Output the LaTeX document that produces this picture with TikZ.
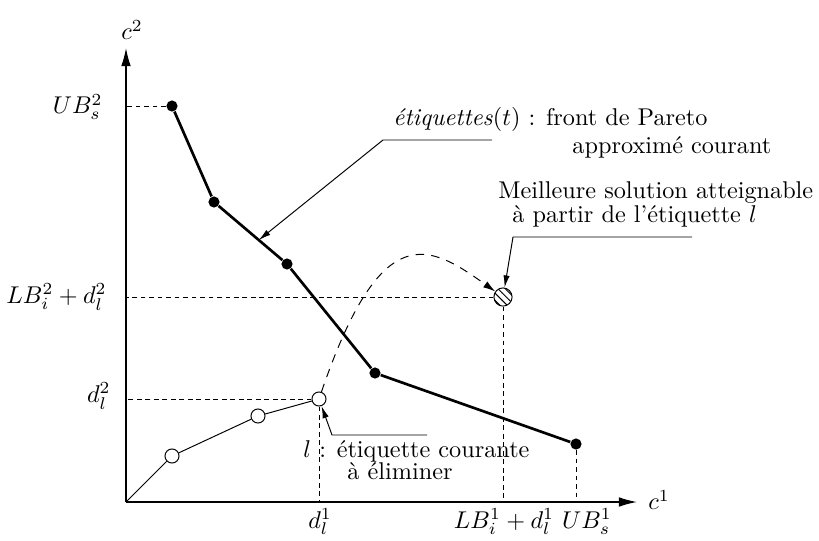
\documentclass[tikz,border=0pt]{standalone}
\usepackage{fontspec}
\usepackage{amsmath}
\usepackage{tikz}
\usetikzlibrary{arrows.meta,patterns}

\begin{document}
\begin{tikzpicture}[x=.0145cm,y=-.0145cm,
  front/.style={circle,fill,inner sep=0pt,minimum size=4.6pt},
  lbl/.style={circle,draw,fill=white,inner sep=0pt,minimum size=5.8pt},
  guide/.style={dash pattern=on 2pt off 1.5pt,line width=.4pt},
  leader/.style={-{Latex[length=5pt,width=2.6pt]},line width=.4pt},
  txt/.style={anchor=base west,inner sep=0pt},
  axlab/.style={inner sep=0pt}]
\useasboundingbox (0,0) rectangle (819,540);
\coordinate (o) at (126,502);
\coordinate (xend) at (637,502);
\coordinate (yend) at (126,48);
\draw[-{Latex[length=7.5pt,width=4pt]},line width=.55pt] (o) -- (xend);
\draw[-{Latex[length=7.5pt,width=4pt]},line width=.55pt] (o) -- (yend);
\node[axlab] (c1) at (659,500) {$c^1$};
\node[axlab] (c2) at (132,30) {$c^2$};
\foreach \n/\x/\y in {p1/172/106,p2/214/202,p3/287/264,p4/375/373,p5/576/444}
  \node[front] (\n) at (\x,\y) {};
\foreach \n/\x/\y in {q1/172/456,q2/258/416,l/319/399}
  \node[lbl] (\n) at (\x,\y) {};
\node[circle,draw,pattern=north west lines,inner sep=0pt,minimum size=7.5pt] (best) at (503,297) {};
\draw[line width=1.1pt] (p1) -- (p2) -- (p3) -- (p4) -- (p5);
\draw[line width=.4pt] (o) -- (q1) -- (q2) -- (l);
\draw[-{Latex[length=5pt,width=3pt]},dash pattern=on 3.5pt off 3pt] (l) .. controls (382,215) and (430,245) .. (best);
\draw[guide] (p1) -- (p1 -| o);
\draw[guide] (best) -- (best -| o);
\draw[guide] (best) -- (best |- o);
\draw[guide] (l) -- (l -| o);
\draw[guide] (l) -- (l |- o);
\draw[guide] (p5) -- (p5 |- o);
\node[axlab,anchor=east] (ub2) at (103,107) {$UB_s^2$};
\node[axlab,anchor=east] (lb2) at (107,297) {$LB_i^2+d_l^2$};
\node[axlab,anchor=east] (dl2) at (111,396) {$d_l^2$};
\node[axlab,anchor=base] (dl1) at (320,528) {$d_l^1$};
\node[axlab,anchor=base] (lb1) at (504,528) {$LB_i^1+d_l^1$};
\node[axlab,anchor=base] (ub1) at (587,528) {$UB_s^1$};
\node[txt] (front1) at (393,125) {\textit{étiquettes}$(t)$ : front de Pareto};
\node[txt] (front2) at (572,153) {approximé courant};
\coordinate (k1) at (383,140);
\coordinate (k1e) at (492,140);
\path (p2) -- (p3) coordinate[pos=.63] (hit);
\draw[leader] (k1e) -- (k1) -- (hit);
\node[txt] (best1) at (498,198) {Meilleure solution atteignable};
\node[txt] (best2) at (512,222) {à partir de l'étiquette $l$};
\coordinate (k2) at (513,237);
\coordinate (k2e) at (692,237);
\draw[leader] (k2e) -- (k2) -- (best);
\node[txt] (cur1) at (303,457) {$l$ : étiquette courante};
\node[txt] (cur2) at (347,479) {à éliminer};
\coordinate (k3) at (332,435);
\coordinate (k3e) at (427,435);
\draw[leader] (k3e) -- (k3) -- (l);
\end{tikzpicture}
\end{document}
